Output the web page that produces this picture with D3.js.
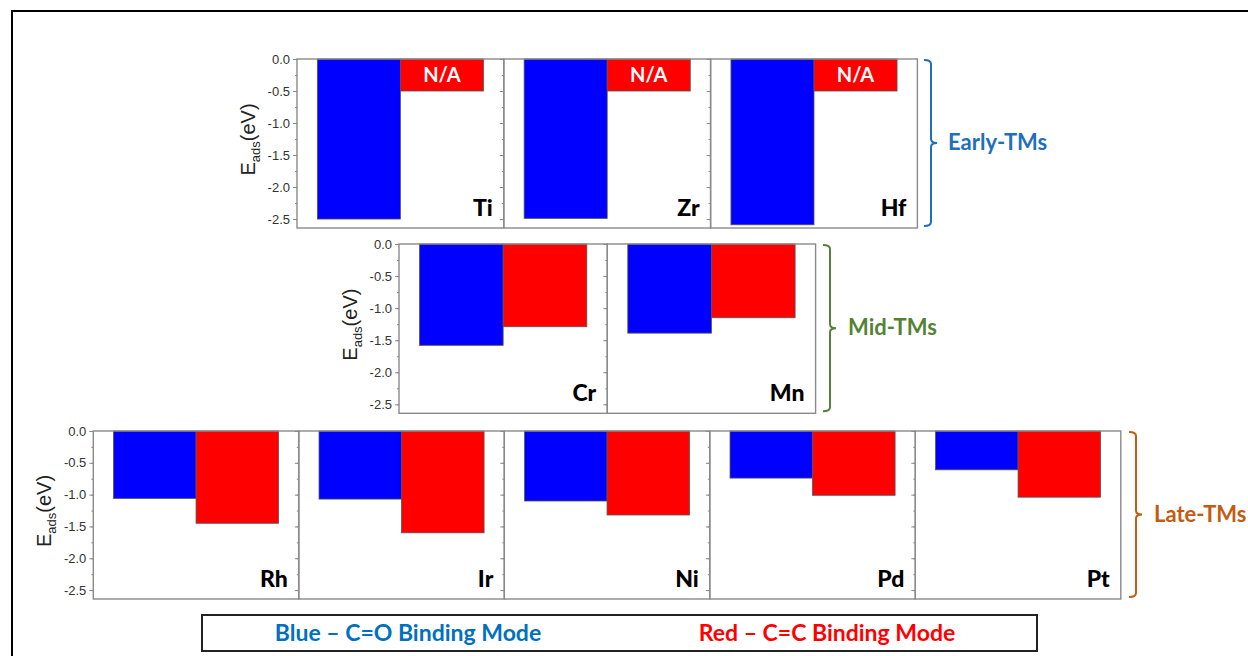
<html>
    <head>
        <meta charset="utf-8">
        <title>Eads binding modes</title>
        <style>
            body { margin: 0; background: #fff; }
        </style>
    </head>
    <body>

        <div id="chart-area"></div>

        <script src="https://d3js.org/d3.v7.min.js"></script>

        <script>

            // data (eV)
            const earlyMetals = ["Ti", "Zr", "Hf"]
            const earlyCO = [-2.50, -2.49, -2.59]
            const earlyCC = ["N/A", "N/A", "N/A"]

            const midMetals = ["Cr", "Mn"]
            const midCO = [-1.58, -1.39]
            const midCC = [-1.29, -1.15]

            const lateMetals = ["Rh", "Ir", "Ni", "Pd", "Pt"]
            const lateCO = [-1.06, -1.07, -1.10, -0.74, -0.61]
            const lateCC = [-1.45, -1.60, -1.32, -1.01, -1.04]

            const naDepth = -0.5        // height of the "N/A" placeholder box
            const yTicks = [0, -0.5, -1.0, -1.5, -2.0, -2.5]
            const yDomain = [0, -2.64]

            const groupNames = ["Early-TMs", "Mid-TMs", "Late-TMs"]
            const legendLabels = ["Blue \u2013 C=O Binding Mode", "Red \u2013 C=C Binding Mode"]

            const BLUE = "#0000ff", RED = "#ff0000"
            const FRAME = "#8a8a8a"
            const LABEL_FONT = "Lato, 'Open Sans', sans-serif"
            const AXIS_FONT = "'Liberation Sans', Arial, sans-serif"

            // row layouts
            const rows = [
                { metals: earlyMetals, co: earlyCO, cc: earlyCC, x0: 297, y0: 59, w: 206.8, h: 169,
                  name: groupNames[0], color: "#1f6fbf", bx: 924, lx: 948 },
                { metals: midMetals, co: midCO, cc: midCC, x0: 399, y0: 244, w: 208.3, h: 169.3,
                  name: groupNames[1], color: "#548235", bx: 823, lx: 848 },
                { metals: lateMetals, co: lateCO, cc: lateCC, x0: 93.3, y0: 431, w: 205.5, h: 168,
                  name: groupNames[2], color: "#c55a11", bx: 1129, lx: 1154 }
            ]

            const svg = d3.select("#chart-area")
                .append("svg")
                    .attr("width", 1248)
                    .attr("height", 656);

            // outer frame
            svg.append("rect")
                .attr("x", 12).attr("y", 11)
                .attr("width", 1260).attr("height", 700)
                .attr("fill", "none")
                .attr("stroke", "#000")
                .attr("stroke-width", 2);

            const fmt = d => d3.format(".1f")(d).replace("\u2212", "-")

            rows.forEach(row => {
                const y = d3.scaleLinear()
                    .domain(yDomain)
                    .range([row.y0, row.y0 + row.h]);

                const panelX = d3.scaleBand()
                    .domain(row.metals)
                    .range([row.x0, row.x0 + row.w * row.metals.length])
                    .padding(0);

                const barX = d3.scaleBand()
                    .domain(["CO", "CC"])
                    .range([0, row.w])
                    .paddingInner(0)
                    .paddingOuter(0.245);

                row.metals.forEach((m, i) => {
                    const px = panelX(m)
                    const g = svg.append("g")
                        .attr("transform", `translate(${px}, 0)`);

                    // y axis with major + minor ticks
                    const minor = d3.axisLeft(y)
                        .tickValues(d3.range(0, -2.6, -0.25))
                        .tickSize(2)
                        .tickFormat("");
                    g.append("g")
                        .call(minor)
                        .call(a => a.select(".domain").remove())
                        .selectAll("line").attr("stroke", FRAME);

                    const major = d3.axisLeft(y)
                        .tickValues(yTicks)
                        .tickSize(4)
                        .tickPadding(3)
                        .tickFormat(i === 0 ? fmt : () => "");
                    g.append("g")
                        .call(major)
                        .call(a => a.select(".domain").remove())
                        .call(a => a.selectAll("line").attr("stroke", FRAME))
                        .selectAll("text")
                            .attr("font-size", "13px")
                            .attr("font-family", AXIS_FONT)
                            .attr("fill", "#333");

                    // bars
                    const coVal = row.co[i]
                    const ccVal = row.cc[i]
                    const isNA = ccVal === "N/A"

                    g.append("rect")
                        .attr("x", barX("CO"))
                        .attr("y", y(0))
                        .attr("width", barX.bandwidth())
                        .attr("height", y(coVal) - y(0))
                        .attr("fill", BLUE)
                        .attr("stroke", "#555")
                        .attr("stroke-width", 0.8);

                    const ccDepth = isNA ? naDepth : ccVal
                    g.append("rect")
                        .attr("x", barX("CC"))
                        .attr("y", y(0))
                        .attr("width", barX.bandwidth())
                        .attr("height", y(ccDepth) - y(0))
                        .attr("fill", RED)
                        .attr("stroke", "#555")
                        .attr("stroke-width", 0.8);

                    if (isNA) {
                        g.append("text")
                            .attr("x", barX("CC") + barX.bandwidth() / 2)
                            .attr("y", (y(0) + y(naDepth)) / 2 + 7)
                            .attr("text-anchor", "middle")
                            .attr("font-family", LABEL_FONT)
                            .attr("font-weight", "bold")
                            .attr("font-size", "20px")
                            .attr("fill", "#fff")
                            .text("N/A");
                    }

                    // panel frame
                    g.append("rect")
                        .attr("x", 0)
                        .attr("y", y(yDomain[0]))
                        .attr("width", row.w)
                        .attr("height", y(yDomain[1]) - y(yDomain[0]))
                        .attr("fill", "none")
                        .attr("stroke", FRAME)
                        .attr("stroke-width", 1.4);

                    // metal label
                    g.append("text")
                        .attr("x", row.w - 11)
                        .attr("y", y(yDomain[1]) - 12)
                        .attr("text-anchor", "end")
                        .attr("font-family", LABEL_FONT)
                        .attr("font-weight", "900")
                        .attr("font-size", "23px")
                        .attr("fill", "#000")
                        .text(m);
                })

                // y title
                const yMid = (y(yDomain[0]) + y(yDomain[1])) / 2 - 4
                const title = svg.append("text")
                    .attr("transform", `translate(${row.x0 - 42}, ${yMid}) rotate(-90)`)
                    .attr("text-anchor", "middle")
                    .attr("font-family", AXIS_FONT)
                    .attr("font-size", "20px")
                    .attr("fill", "#222");
                title.append("tspan").text("E");
                title.append("tspan").attr("font-size", "13px").attr("dy", 5).text("ads");
                title.append("tspan").attr("dy", -5).text("(eV)");

                // group bracket
                const top = y(yDomain[0]) + 1, bot = y(yDomain[1]) - 2
                const mid = (top + bot) / 2
                const bx0 = row.bx, bx1 = row.bx + 7, bx2 = row.bx + 13, r = 4
                svg.append("path")
                    .attr("d", `M${bx0},${top} Q${bx1},${top} ${bx1},${top + r}
                                L${bx1},${mid - r} Q${bx1},${mid} ${bx2},${mid}
                                Q${bx1},${mid} ${bx1},${mid + r}
                                L${bx1},${bot - r} Q${bx1},${bot} ${bx0},${bot}`)
                    .attr("fill", "none")
                    .attr("stroke", row.color)
                    .attr("stroke-width", 2);

                svg.append("text")
                    .attr("x", row.lx)
                    .attr("y", mid + 7)
                    .attr("font-family", LABEL_FONT)
                    .attr("font-weight", "bold")
                    .attr("font-size", "22px")
                    .attr("fill", row.color)
                    .text(row.name);
            })

            // legend box
            svg.append("rect")
                .attr("x", 202).attr("y", 615)
                .attr("width", 835).attr("height", 36)
                .attr("fill", "#fff")
                .attr("stroke", "#222")
                .attr("stroke-width", 2);

            const legendColors = ["#0070c0", RED]
            const legendX = [408, 827]
            legendLabels.forEach((t, i) => {
                svg.append("text")
                    .attr("x", legendX[i])
                    .attr("y", 641)
                    .attr("text-anchor", "middle")
                    .attr("font-family", LABEL_FONT)
                    .attr("font-weight", "bold")
                    .attr("font-size", "23px")
                    .attr("fill", legendColors[i])
                    .text(t);
            })

        </script>
    </body>
</html>
